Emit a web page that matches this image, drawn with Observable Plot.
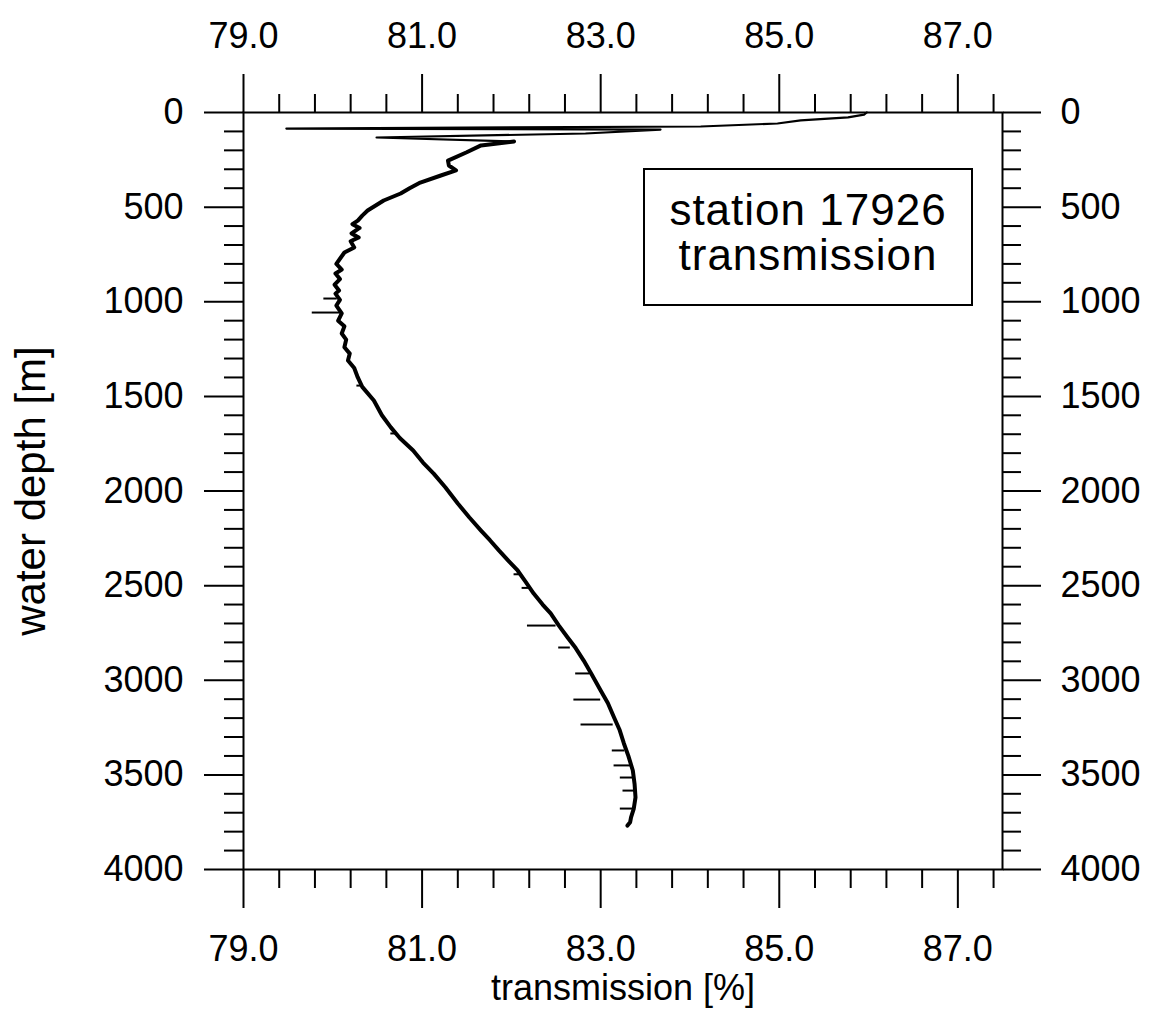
<!DOCTYPE html>
<html>
<head>
<meta charset="utf-8">
<script src="https://cdn.jsdelivr.net/npm/d3@7"></script>
<script src="https://cdn.jsdelivr.net/npm/@observablehq/plot@0.6"></script>
<style>
  html, body { margin: 0; padding: 0; background: #fff; }
  #wrap { position: relative; width: 1158px; height: 1015px; font-family: "Liberation Sans", Arial, Helvetica, sans-serif; }
  #legend { position: absolute; left: 643px; top: 168px; width: 326px; height: 134px; border: 2px solid #000; background: #fff; }
  #legend .ln { position: absolute; left: 0; width: 100%; text-align: center; font-size: 44px; letter-spacing: 1px; line-height: 1; color: #000; white-space: nowrap; }
</style>
</head>
<body>
<div id="wrap"></div>
<script>
// Transmission profile, station 17926 (depth in m, transmission in %)
const depth = [0, 11, 26, 42, 58, 74, 85, 90, 111, 132, 153, 174, 210, 254, 280, 306, 333, 370, 400, 428, 465, 518, 545, 571, 590, 610, 639, 660, 680, 713, 740, 766, 800, 830, 851, 880, 910, 940, 957, 990, 1020, 1062, 1100, 1130, 1168, 1200, 1240, 1274, 1310, 1350, 1400, 1450, 1522, 1600, 1664, 1720, 1786, 1850, 1908, 1980, 2066, 2140, 2209, 2260, 2314, 2370, 2420, 2480, 2542, 2600, 2647, 2710, 2774, 2830, 2896, 2970, 3054, 3120, 3197, 3260, 3334, 3400, 3477, 3550, 3619, 3680, 3725, 3750, 3768];
const transmission = [85.98, 85.95, 85.77, 85.24, 84.98, 84.12, 79.48, 83.67, 82.83, 80.49, 82.03, 81.66, 81.50, 81.29, 81.30, 81.38, 81.21, 80.98, 80.86, 80.76, 80.57, 80.39, 80.33, 80.28, 80.22, 80.30, 80.21, 80.29, 80.20, 80.24, 80.13, 80.09, 80.04, 80.10, 80.03, 80.08, 80.02, 80.07, 80.03, 80.08, 80.04, 80.10, 80.06, 80.13, 80.10, 80.15, 80.13, 80.19, 80.17, 80.24, 80.28, 80.33, 80.46, 80.55, 80.65, 80.75, 80.90, 81.01, 81.13, 81.26, 81.40, 81.53, 81.66, 81.76, 81.86, 81.97, 82.07, 82.16, 82.25, 82.35, 82.44, 82.53, 82.63, 82.72, 82.81, 82.90, 83.00, 83.08, 83.15, 83.21, 83.26, 83.31, 83.36, 83.38, 83.39, 83.37, 83.34, 83.33, 83.30];

// Short spikes (single low readings) : depth, left end, curve value
const spikeDepth = [983, 1057, 1443, 1696, 2440, 2512, 2711, 2827, 2964, 3102, 3234, 3371, 3450, 3514, 3583, 3678];
const spikeLow   = [79.90, 79.77, 80.27, 80.65, 82.03, 82.12, 82.18, 82.53, 82.72, 82.70, 82.78, 83.13, 83.15, 83.22, 83.25, 83.22];
const spikeHigh  = [80.05, 80.09, 80.33, 80.72, 82.12, 82.22, 82.50, 82.66, 82.88, 83.00, 83.14, 83.27, 83.34, 83.37, 83.39, 83.37];

const xMajor = [79, 81, 83, 85, 87];
const xMinor = [79.4, 79.8, 80.2, 80.6, 81.4, 81.8, 82.2, 82.6, 83.4, 83.8, 84.2, 84.6, 85.4, 85.8, 86.2, 86.6, 87.4];
const yMajor = [0, 500, 1000, 1500, 2000, 2500, 3000, 3500, 4000];
const yMinor = [100, 200, 300, 400, 600, 700, 800, 900, 1100, 1200, 1300, 1400, 1600, 1700, 1800, 1900, 2100, 2200, 2300, 2400, 2600, 2700, 2800, 2900, 3100, 3200, 3300, 3400, 3600, 3700, 3800, 3900];

const profile = depth.map((d, i) => ({d, v: transmission[i]}));
const spikes = spikeDepth.map((d, i) => ({d, a: spikeLow[i], b: spikeHigh[i]}));

const fmt = d => d.toFixed(1);

const chart = Plot.plot({
  width: 1158,
  height: 1015,
  marginLeft: 243,
  marginRight: 156,
  marginTop: 112,
  marginBottom: 146,
  style: {fontFamily: '"Liberation Sans", Arial, Helvetica, sans-serif', fontSize: "36px", color: "#000", background: "#fff"},
  x: {domain: [79, 87.5]},
  y: {domain: [0, 4000], reverse: true},
  marks: [
    Plot.axisX(xMajor, {anchor: "top", tickSize: 39, tickPadding: 26, tickFormat: fmt, strokeWidth: 2, label: null, fontSize: 36}),
    Plot.axisX(xMinor, {anchor: "top", tickSize: 19, strokeWidth: 2, fill: "none", label: null}),
    Plot.axisX(xMajor, {anchor: "bottom", tickSize: 39, tickPadding: 27, tickFormat: fmt, strokeWidth: 2, label: null, fontSize: 36}),
    Plot.axisX(xMinor, {anchor: "bottom", tickSize: 19, strokeWidth: 2, fill: "none", label: null}),
    Plot.axisY(yMajor, {anchor: "left", tickSize: 39, tickPadding: 21, tickFormat: d => String(d), strokeWidth: 2, label: null, fontSize: 36}),
    Plot.axisY(yMinor, {anchor: "left", tickSize: 19, strokeWidth: 2, fill: "none", label: null}),
    Plot.axisY(yMajor, {anchor: "right", tickSize: 38, tickPadding: 20, tickFormat: d => String(d), strokeWidth: 2, label: null, fontSize: 36}),
    Plot.axisY(yMinor, {anchor: "right", tickSize: 18, strokeWidth: 2, fill: "none", label: null}),
    Plot.frame({stroke: "#000", strokeWidth: 2}),
    Plot.ruleY(spikes, {y: "d", x1: "a", x2: "b", stroke: "#000", strokeWidth: 2}),
    Plot.line(profile, {filter: p => p.d <= 153, x: "v", y: "d", stroke: "#000", strokeWidth: 2.2, strokeLinejoin: "round", strokeLinecap: "round"}),
    Plot.line(profile, {filter: p => p.d >= 153, x: "v", y: "d", stroke: "#000", strokeWidth: 4, strokeLinejoin: "round", strokeLinecap: "round"}),
    Plot.text(["transmission [%]"], {frameAnchor: "bottom", lineAnchor: "bottom", textAnchor: "middle", dy: 130, fontSize: 36, fill: "#000"}),
    Plot.text(["water depth [m]"], {frameAnchor: "left", rotate: -90, textAnchor: "middle", lineAnchor: "middle", dx: -212, fontSize: 42, fill: "#000"})
  ]
});

const wrap = document.getElementById("wrap");
wrap.appendChild(chart);

const legend = document.createElement("div");
legend.id = "legend";
const l1 = document.createElement("div");
l1.className = "ln"; l1.style.top = "18px"; l1.textContent = "station 17926";
const l2 = document.createElement("div");
l2.className = "ln"; l2.style.top = "63px"; l2.textContent = "transmission";
legend.appendChild(l1); legend.appendChild(l2);
wrap.appendChild(legend);
</script>
</body>
</html>
